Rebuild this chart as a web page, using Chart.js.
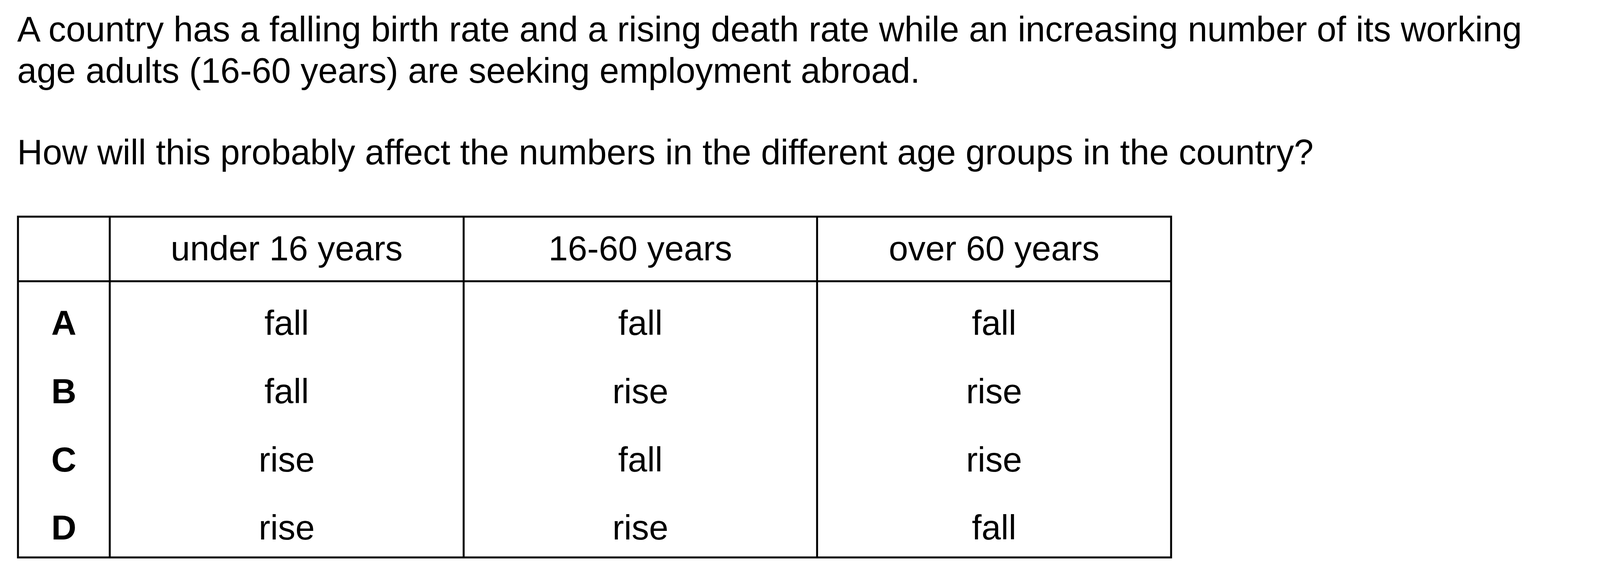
<!DOCTYPE html>
<html>
<head>
<meta charset="utf-8">
<script src="https://cdn.jsdelivr.net/npm/chart.js@4"></script>
<style>
  html, body { margin: 0; padding: 0; background: #fff; }
  body { width: 4201px; height: 1473px; position: relative; overflow: hidden; }
  .q { position: absolute; left: 44px; font-family: "Liberation Sans", Arial, sans-serif;
       font-size: 90px; color: #000; line-height: 106px; white-space: nowrap; }
  canvas { position: absolute; left: 0; top: 0; }
</style>
</head>
<body>
<div class="q" style="top:22px">A country has a falling birth rate and a rising death rate while an increasing number of its working<br>age adults (16-60 years) are seeking employment abroad.</div>
<div class="q" style="top:337px">How will this probably affect the numbers in the different age groups in the country?</div>
<canvas id="tableChart" width="4201" height="1473"></canvas>
<script>
// table content
const columns = ["", "under 16 years", "16-60 years", "over 60 years"];
const options = ["A", "B", "C", "D"];
const under16 = ["fall", "fall", "rise", "rise"];
const working = ["fall", "rise", "fall", "rise"];
const over60 = ["fall", "rise", "rise", "fall"];

// column edges as share of the table width (layout only)
const colEdges = [0, 0.0796, 0.3865, 0.693, 1];
const rowLabels = ["header"].concat(options);

const tablePlugin = {
    id: "tablePlugin",
    afterDraw(chart) {
        const ctx = chart.ctx;
        const x = chart.scales.x;
        const y = chart.scales.y;
        const area = chart.chartArea;
        const rowH = (area.bottom - area.top) / rowLabels.length;

        ctx.save();
        ctx.strokeStyle = "#000";
        ctx.lineWidth = 5;
        ctx.strokeRect(area.left, area.top, area.right - area.left, area.bottom - area.top);

        // vertical lines
        colEdges.slice(1, -1).forEach(e => {
            const px = x.getPixelForValue(e);
            ctx.beginPath();
            ctx.moveTo(px, area.top);
            ctx.lineTo(px, area.bottom);
            ctx.stroke();
        });

        // header line
        ctx.beginPath();
        ctx.moveTo(area.left, area.top + rowH - 9);
        ctx.lineTo(area.right, area.top + rowH - 9);
        ctx.stroke();

        ctx.fillStyle = "#000";
        ctx.textAlign = "center";
        ctx.textBaseline = "middle";
        const cx = i => x.getPixelForValue((colEdges[i] + colEdges[i + 1]) / 2);

        ctx.font = "89px 'Liberation Sans', Arial, sans-serif";
        columns.forEach((c, i) => {
            if (c) ctx.fillText(c, cx(i), y.getPixelForValue(0));
        });

        options.forEach((o, r) => {
            const py = y.getPixelForValue(r + 1) + 17;
            ctx.font = "bold 89px 'Liberation Sans', Arial, sans-serif";
            ctx.fillText(o, cx(0), py);
            ctx.font = "89px 'Liberation Sans', Arial, sans-serif";
            ctx.fillText(under16[r], cx(1), py);
            ctx.fillText(working[r], cx(2), py);
            ctx.fillText(over60[r], cx(3), py);
        });
        ctx.restore();
    }
};

new Chart(document.getElementById("tableChart").getContext("2d"), {
    type: "scatter",
    data: {
        labels: rowLabels,
        datasets: [{
            data: [],
            pointRadius: 0
        }]
    },
    options: {
        responsive: false,
        animation: false,
        layout: {
            padding: { left: 46, top: 555, right: 1203, bottom: 45 }
        },
        plugins: {
            legend: { display: false },
            tooltip: { enabled: false }
        },
        scales: {
            x: { type: "linear", min: 0, max: 1, display: false },
            y: { type: "category", labels: rowLabels, offset: true, display: false }
        }
    },
    plugins: [tablePlugin]
});
</script>
</body>
</html>
